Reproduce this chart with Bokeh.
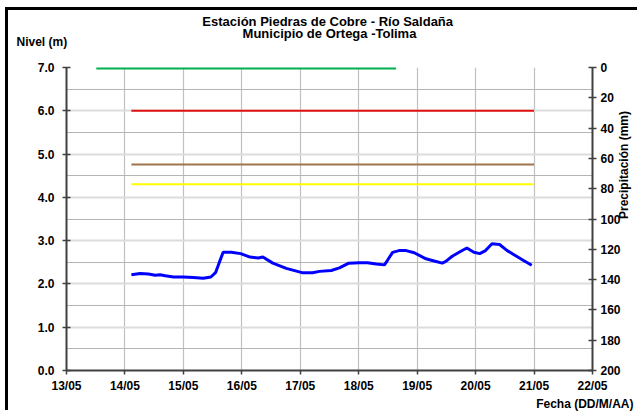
from bokeh.plotting import figure
from bokeh.models import (Range1d, LinearAxis, FixedTicker, SingleIntervalTicker, Title)
from bokeh.embed import file_html
from bokeh.resources import INLINE
import math

# ---- data ----
x_ticks = [13, 14, 15, 16, 17, 18, 19, 20, 21, 22]
x_tick_labels = ["13/05", "14/05", "15/05", "16/05", "17/05", "18/05", "19/05", "20/05", "21/05", "22/05"]
nivel_ticks = [0, 1, 2, 3, 4, 5, 6, 7]
precip_ticks = [0, 20, 40, 60, 80, 100, 120, 140, 160, 180, 200]

fecha = [14.11, 14.26, 14.40, 14.52, 14.60, 14.69, 14.83, 15.00, 15.17, 15.34, 15.47, 15.55,
         15.61, 15.68, 15.82, 15.98, 16.14, 16.28, 16.36, 16.53, 16.76, 17.03, 17.21, 17.33,
         17.53, 17.67, 17.83, 18.01, 18.15, 18.30, 18.44, 18.49, 18.58, 18.69, 18.81, 18.95,
         19.15, 19.29, 19.43, 19.49, 19.60, 19.74, 19.85, 19.97, 20.07, 20.17, 20.28, 20.41,
         20.54, 20.65, 20.82, 20.96]
nivel = [2.21, 2.24, 2.23, 2.20, 2.21, 2.19, 2.16, 2.16, 2.15, 2.13, 2.16, 2.26,
         2.48, 2.73, 2.73, 2.70, 2.62, 2.60, 2.62, 2.48, 2.36, 2.26, 2.26, 2.29,
         2.31, 2.37, 2.48, 2.49, 2.49, 2.46, 2.44, 2.54, 2.73, 2.77, 2.77, 2.72,
         2.58, 2.53, 2.48, 2.52, 2.64, 2.75, 2.83, 2.73, 2.70, 2.77, 2.93, 2.91,
         2.77, 2.68, 2.54, 2.43]

precip_fecha = [13.51, 18.64]
precip = [0, 0]

umbral_fecha = [14.11, 21.0]
umbral_rojo = 6.0
umbral_cafe = 4.76
umbral_amarillo = 4.3

titulo_1 = "Estación Piedras de Cobre  - Río Saldaña"
titulo_2 = "Municipio de Ortega -Tolima"
eje_y_izq = "Nivel (m)"
eje_y_der = "Precipitación (mm)"
eje_x = "Fecha (DD/M/AA)"

FONT = "Liberation Sans"

p = figure(width=632, height=403, output_backend="svg", toolbar_location=None,
           x_range=Range1d(13, 22), y_range=Range1d(0, 7),
           min_border_left=58, min_border_right=46, min_border_top=57, min_border_bottom=43)
p.styles = {"margin-left": "8px", "margin-top": "10px",
            "box-shadow": "-3px -3px 0px 0px black"}
p.outline_line_color = None
p.background_fill_color = "white"
p.border_fill_color = "white"

# axes
p.xaxis.ticker = FixedTicker(ticks=x_ticks)
p.xaxis.major_label_overrides = {t: l for t, l in zip(x_ticks, x_tick_labels)}
p.yaxis.ticker = SingleIntervalTicker(interval=1, num_minor_ticks=2)
p.yaxis.major_label_overrides = {t: f"{t:.1f}" for t in nivel_ticks}

p.extra_y_ranges = {"precip": Range1d(200, 0)}
ax_r = LinearAxis(y_range_name="precip", ticker=FixedTicker(ticks=precip_ticks))
p.add_layout(ax_r, "right")

for ax in [p.xaxis[0], p.yaxis[0], ax_r]:
    ax.axis_line_color = "#404040"
    ax.axis_line_width = 2
    ax.major_tick_line_color = "#404040"
    ax.major_tick_line_width = 1.5
    ax.minor_tick_line_color = None
    ax.major_label_text_font = FONT
    ax.major_label_text_font_style = "bold"
    ax.major_label_text_font_size = "12px"
    ax.major_label_text_color = "black"
for ax in [p.yaxis[0], ax_r]:
    ax.major_tick_in = 4
    ax.major_tick_out = 4
p.yaxis.major_label_standoff = 8
ax_r.major_label_standoff = 4
p.xaxis.major_tick_in = 0
p.xaxis.major_tick_out = 4
p.xaxis.major_label_standoff = 4

ax_r.axis_label = eje_y_der
ax_r.axis_label_orientation = math.pi / 2
ax_r.axis_label_standoff = 0
ax_r.axis_label_text_font = FONT
ax_r.axis_label_text_font_style = "bold"
ax_r.axis_label_text_font_size = "12px"
ax_r.axis_label_text_color = "black"

# grids
p.xgrid.grid_line_color = "#c0c0c0"
p.xgrid.grid_line_width = 1.2
p.ygrid.grid_line_color = "#dcdcdc"
p.ygrid.grid_line_width = 2
p.ygrid.minor_grid_line_color = "#b4b4b4"
p.ygrid.minor_grid_line_width = 1

# series
p.line(precip_fecha, precip, y_range_name="precip", line_color="#00B050", line_width=4)
p.line(umbral_fecha, [umbral_rojo] * 2, line_color="#E01010", line_width=2)
p.line(umbral_fecha, [umbral_cafe] * 2, line_color="#A0754A", line_width=2)
p.line(umbral_fecha, [umbral_amarillo] * 2, line_color="#FFFF00", line_width=2)
p.line(fecha, nivel, line_color="#0000FF", line_width=3)

# texts as titles in side panels (first added = nearest the frame)
def ttl(text, align, offset, standoff, side, valign="bottom", lh=1.2, size="12px"):
    t = Title(text=text, align=align, offset=offset, standoff=standoff,
              vertical_align=valign,
              text_font=FONT, text_font_style="bold", text_font_size=size,
              text_color="black", text_line_height=lh)
    p.add_layout(t, side)

ttl(eje_y_izq + "\n ", "left", -50, 0, "above", valign="top", lh=1.19)
ttl(titulo_2, "center", -1, -17, "above", valign="top", size="13px")
ttl(titulo_1, "center", -19, 7, "above", valign="top", size="13px")
ttl(eje_x, "right", -41, 2, "below", valign="top")

open("out.html", "w").write(file_html(p, INLINE))
